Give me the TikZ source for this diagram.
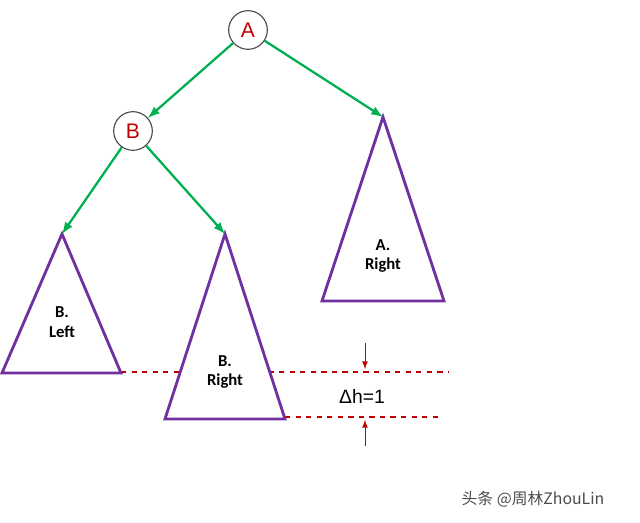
\documentclass[tikz,border=0pt]{standalone}
\usepackage{fontspec}
\setmainfont{Liberation Sans}
\newfontfamily\labelfont{Carlito}
\newfontfamily\cjk{Noto Sans CJK SC}
\usetikzlibrary{calc, positioning, arrows}
\definecolor{edgegreen}{RGB}{0,176,80}
\definecolor{treepurple}{RGB}{112,48,160}
\definecolor{darkred}{RGB}{192,0,0}
\tikzstyle{Node}=[circle, draw=black!75, line width=0.6pt, minimum size=22pt, inner sep=0pt, text=darkred, font=\fontsize{12}{12}\selectfont]
\tikzstyle{Edge}=[-latex, edgegreen, line width=1.3pt]
\tikzstyle{Tree}=[draw=treepurple, fill=white, line width=1.6pt, line join=miter]
\tikzstyle{Level}=[dashed, darkred, line width=0.7pt]
\tikzstyle{Mark}=[-latex, darkred, line width=0.5pt]
\tikzstyle{Sub}=[align=center, font=\labelfont\bfseries\fontsize{9.5}{11}\selectfont]

\begin{document}
\begin{tikzpicture}[x=0.02cm, y=-0.02cm]
			\useasboundingbox (0, 0) rectangle (640, 523);
			% nodes
			\node[Node] (A) at (248, 30) {A};
			\node[Node] (B) at (133, 131) {B};
			\coordinate (bl) at (62, 234);
			\coordinate (br) at (225, 234);
			\coordinate (ar) at (383, 117);
			% level lines
			\draw[Level] (121, 372) -- (449, 372);
			\draw[Level] (285, 417) -- (441, 417);
			% subtrees
			\draw[Tree] (bl) -- (2, 373) -- (121, 373) -- cycle;
			\draw[Tree] (br) -- (165, 419) -- (285, 419) -- cycle;
			\draw[Tree] (ar) -- (322, 301) -- (444, 301) -- cycle;
			\node[Sub] (bleft) at (62, 322) {B.\\Left};
			\node[Sub] (bright) at (225, 372) {B.\\Right};
			\node[Sub] (aright) at (383, 256) {A.\\Right};
			% edges
			\draw[Edge] (A) -- (B);
			\draw[Edge] (A) -- (ar);
			\draw[Edge] (B) -- (bl);
			\draw[Edge] (B) -- (br);
			% height difference
			\coordinate (t1) at (365, 343);
			\coordinate (t2) at (365, 369);
			\coordinate (u1) at (365, 446);
			\coordinate (u2) at (365, 420);
			\draw[Mark] (t1) -- (t2);
			\draw[Mark] (u1) -- (u2);
			\node[font=\fontsize{11}{11}\selectfont] (dh) at (362, 397) {Δh=1};
			\node[text=black!70, font=\cjk\fontsize{9}{10}\selectfont] (mark) at (533, 499) {头条 @周林ZhouLin};
		\end{tikzpicture}
\end{document}
